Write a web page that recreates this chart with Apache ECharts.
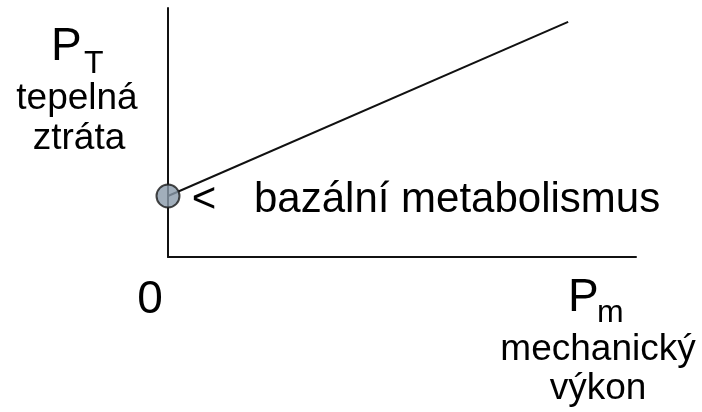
<!DOCTYPE html>
<html>
<head>
<meta charset="utf-8">
<script src="https://cdn.jsdelivr.net/npm/echarts@6/dist/echarts.min.js"></script>
<style>
  html, body { margin: 0; padding: 0; background: #fff; }
  #chart { width: 702px; height: 412px; }
</style>
</head>
<body>
<div id="chart"></div>
<script>
// mechanical power (x) vs heat loss (y), arbitrary units 0..10
const mechPower = [0, 8.55];
const heatLoss = [2.45, 9.44];
// basal metabolism point
const basal = [[0, 2.45]];

const FONT = "'Liberation Sans', Arial, sans-serif";
const chart = echarts.init(document.getElementById('chart'));

const lineData = mechPower.map((x, i) => [x, heatLoss[i]]);

function txt(x, y, text, size, align) {
  return {
    type: 'text', x: x, y: y,
    style: {
      text: text, fill: '#000', font: size + 'px ' + FONT,
      textAlign: align || 'left', textVerticalAlign: 'middle'
    }
  };
}

const option = {
  backgroundColor: '#fff',
  animation: false,
  grid: { left: 168, right: 66, top: 8, bottom: 155 },
  xAxis: {
    type: 'value', min: 0, max: 10,
    axisLine: { show: true, lineStyle: { color: '#111', width: 2 } },
    axisTick: { show: false }, axisLabel: { show: false }, splitLine: { show: false }
  },
  yAxis: {
    type: 'value', min: 0, max: 10,
    axisLine: { show: true, lineStyle: { color: '#111', width: 2 } },
    axisTick: { show: false }, axisLabel: { show: false }, splitLine: { show: false }
  },
  series: [
    {
      type: 'line', data: lineData, showSymbol: false,
      lineStyle: { color: '#111', width: 2 }
    },
    {
      type: 'scatter', data: basal, symbolSize: 23, clip: false, z: 5,
      itemStyle: { color: '#8A9AAA', borderColor: '#1a1a1a', borderWidth: 2 }
    }
  ],
  graphic: [
    txt(51, 47, 'P', 46),
    txt(84, 64, 'T', 32),
    txt(77, 99, 'tepelná', 37, 'center'),
    txt(79, 139, 'ztráta', 37, 'center'),
    txt(204, 200, '<', 42, 'center'),
    txt(254, 200, 'bazální metabolismus', 42),
    txt(150, 300, '0', 46, 'center'),
    txt(568, 298, 'P', 46),
    txt(597, 313, 'm', 32),
    txt(598, 350, 'mechanický', 37, 'center'),
    txt(598, 389, 'výkon', 37, 'center')
  ]
};
chart.setOption(option);
</script>
</body>
</html>
